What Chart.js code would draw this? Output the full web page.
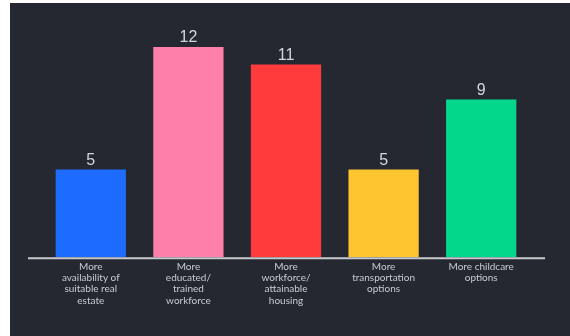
<!DOCTYPE html>
<html>
<head>
<meta charset="utf-8">
<script src="https://cdn.jsdelivr.net/npm/chart.js@4"></script>
<style>
  html, body { margin: 0; padding: 0; background: #ffffff; }
  #wrap { position: absolute; left: 10px; top: 3px; width: 560px; height: 333px; background: #252831; }
</style>
</head>
<body>
<div id="wrap"><canvas id="chart" width="560" height="333"></canvas></div>
<script>
// ---- data ----
const categories = [
  ['More', 'availability of', 'suitable real', 'estate'],
  ['More', 'educated/', 'trained', 'workforce'],
  ['More', 'workforce/', 'attainable', 'housing'],
  ['More', 'transportation', 'options'],
  ['More childcare', 'options']
];
const counts = [5, 12, 11, 5, 9];
const barColors = ['#1d6cff', '#ff7fab', '#ff3b3b', '#ffc531', '#03d78c'];

// numbers above each bar
const valueLabels = {
  id: 'valueLabels',
  afterDatasetsDraw(chart) {
    const ctx = chart.ctx;
    const meta = chart.getDatasetMeta(0);
    ctx.save();
    ctx.fillStyle = '#d4d6dc';
    ctx.font = '16px "Liberation Sans", Arial, sans-serif';
    ctx.textAlign = 'center';
    ctx.textBaseline = 'alphabetic';
    meta.data.forEach((bar, i) => {
      ctx.fillText(String(counts[i]), bar.x, bar.y - 5);
    });
    ctx.restore();
  }
};

// baseline runs a bit past the category area on both sides
const baseLine = {
  id: 'baseLine',
  afterDatasetsDraw(chart) {
    const { ctx, chartArea } = chart;
    const y = chart.scales.y.getPixelForValue(0) + 1;
    ctx.save();
    ctx.strokeStyle = '#c9cace';
    ctx.lineWidth = 2;
    ctx.beginPath();
    ctx.moveTo(chartArea.left - 14, y);
    ctx.lineTo(chartArea.right + 15, y);
    ctx.stroke();
    ctx.restore();
  }
};

new Chart(document.getElementById('chart'), {
  type: 'bar',
  data: {
    labels: categories,
    datasets: [{
      data: counts,
      backgroundColor: barColors,
      borderWidth: 0,
      categoryPercentage: 1,
      barPercentage: 0.72
    }]
  },
  options: {
    responsive: false,
    animation: false,
    layout: { padding: { left: 32, right: 40, top: 44, bottom: 26 } },
    plugins: { legend: { display: false }, tooltip: { enabled: false } },
    scales: {
      x: {
        grid: { display: false, drawTicks: false },
        border: { display: false },
        ticks: {
          color: '#c9cbd0',
          font: { family: 'Lato, "Open Sans", sans-serif', size: 10, lineHeight: 1.12 },
          maxRotation: 0,
          autoSkip: false,
          padding: 4
        }
      },
      y: {
        display: false,
        min: 0,
        max: 12
      }
    }
  },
  plugins: [valueLabels, baseLine]
});
</script>
</body>
</html>
